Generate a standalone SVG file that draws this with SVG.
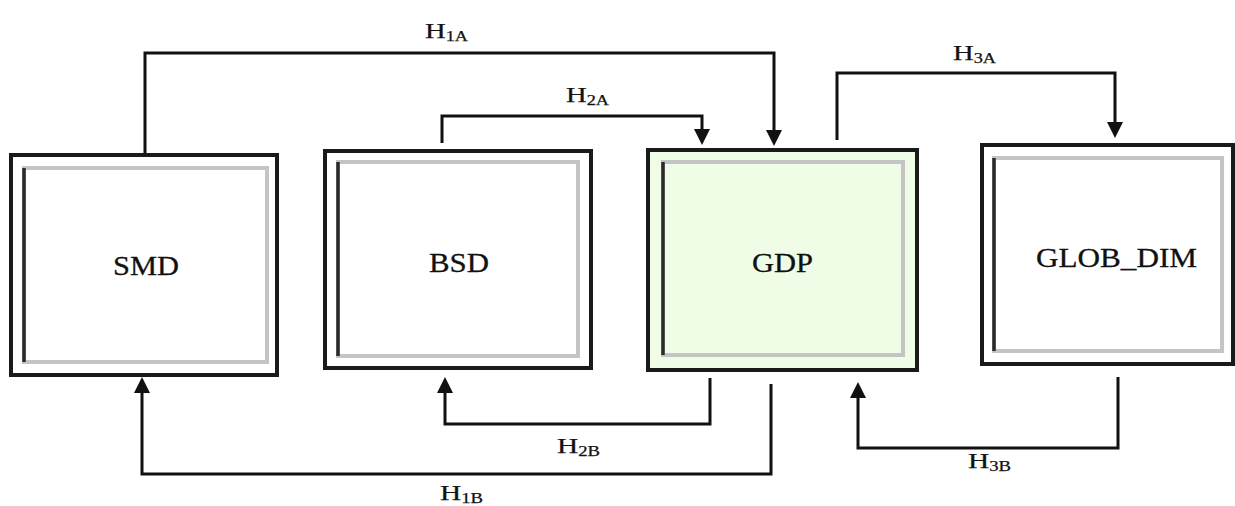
<svg xmlns="http://www.w3.org/2000/svg" width="1235" height="506" viewBox="0 0 1235 506">
<style>
.outer{fill:#fff;stroke:#1a1a1a;stroke-width:4}
.green{fill:#effce6}
.inner{fill:none;stroke:#c4c4c4;stroke-width:4}
.edge{fill:none;stroke:#2a2a2a;stroke-width:3.5}
.name{font-family:"Liberation Serif","Times New Roman",serif;font-size:28px;fill:#111;stroke:#111;stroke-width:0.3}
.lab{font-family:"Liberation Serif","Times New Roman",serif;font-size:22px;fill:#111;stroke:#111;stroke-width:0.25}
.sub{font-size:14px}
.conn{fill:none;stroke:#111;stroke-width:3;stroke-linejoin:miter}
</style>
<defs>
<marker id="arr" viewBox="0 0 16 16" refX="2" refY="8" markerWidth="16" markerHeight="16" markerUnits="userSpaceOnUse" orient="auto">
<path d="M0,0 L16,8 L0,16 z" fill="#111"/>
</marker>
</defs>
<rect width="1235" height="506" fill="#fff"/>
<g id="SMD">
<rect class="outer" x="11" y="155" width="266" height="220"/>
<rect class="inner" x="24" y="168" width="243" height="194"/>
<path class="edge" d="M24,168 V362"/>
<text class="name" x="113" y="275" textLength="66" lengthAdjust="spacingAndGlyphs">SMD</text>
</g>
<g id="BSD">
<rect class="outer" x="325" y="151" width="266" height="217"/>
<rect class="inner" x="338" y="162" width="240" height="194"/>
<path class="edge" d="M338,162 V356"/>
<text class="name" x="429" y="272" textLength="60" lengthAdjust="spacingAndGlyphs">BSD</text>
</g>
<g id="GDP">
<rect class="outer green" x="648" y="150" width="269" height="220"/>
<rect class="inner" x="663" y="162" width="240" height="193" stroke="#b9c9b0"/>
<path class="edge" d="M663,162 V355"/>
<text class="name" x="752" y="272" textLength="61" lengthAdjust="spacingAndGlyphs">GDP</text>
</g>
<g id="GLOB_DIM">
<rect class="outer" x="982" y="145" width="251" height="219"/>
<rect class="inner" x="994" y="158" width="228" height="193"/>
<path class="edge" d="M994,158 V351"/>
<text class="name" x="1036" y="267" textLength="161" lengthAdjust="spacingAndGlyphs">GLOB_DIM</text>
</g>
<g id="connectors">
<path class="conn" d="M145,153 V53 H774 V132" marker-end="url(#arr)"/>
<path class="conn" d="M442,143 V116 H702 V131" marker-end="url(#arr)"/>
<path class="conn" d="M837,140 V73 H1115 V124" marker-end="url(#arr)"/>
<path class="conn" d="M771,384 V474 H142 V391" marker-end="url(#arr)"/>
<path class="conn" d="M710,378 V424 H445 V391" marker-end="url(#arr)"/>
<path class="conn" d="M1118,377 V448 H858 V396" marker-end="url(#arr)"/>
<text class="lab" x="425" y="38" textLength="43" lengthAdjust="spacingAndGlyphs">H<tspan class="sub" dy="3">1A</tspan></text>
<text class="lab" x="566" y="102" textLength="43" lengthAdjust="spacingAndGlyphs">H<tspan class="sub" dy="3">2A</tspan></text>
<text class="lab" x="953" y="60" textLength="43" lengthAdjust="spacingAndGlyphs">H<tspan class="sub" dy="3">3A</tspan></text>
<text class="lab" x="557" y="453" textLength="43" lengthAdjust="spacingAndGlyphs">H<tspan class="sub" dy="3">2B</tspan></text>
<text class="lab" x="440" y="500" textLength="43" lengthAdjust="spacingAndGlyphs">H<tspan class="sub" dy="3">1B</tspan></text>
<text class="lab" x="968" y="468" textLength="43" lengthAdjust="spacingAndGlyphs">H<tspan class="sub" dy="3">3B</tspan></text>
</g>
</svg>
